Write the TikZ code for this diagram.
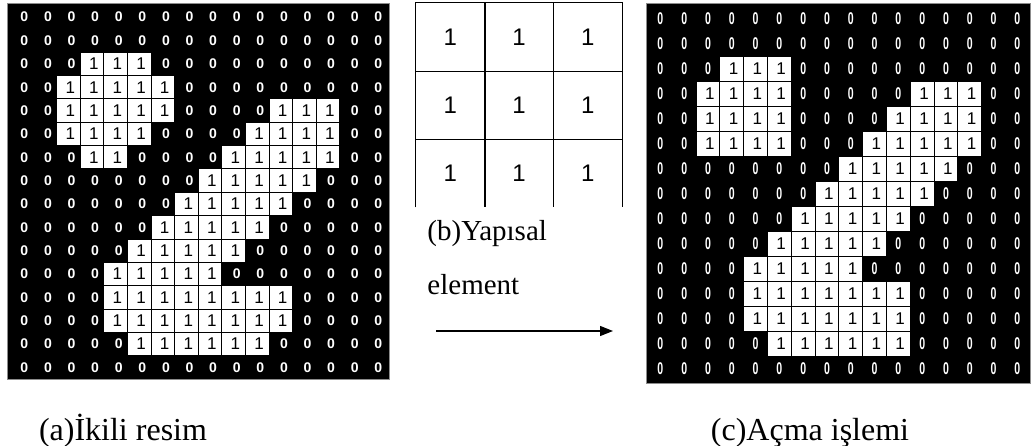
\documentclass[tikz,border=0pt]{standalone}
\usepackage{fontspec}
\setmainfont{Liberation Serif}
\newfontfamily\digitfont{Liberation Sans}
\usetikzlibrary{arrows.meta,positioning}

\newcommand{\sqzero}{\scalebox{0.62}[1]{0}}

\begin{document}
\begin{tikzpicture}[x=1pt, y=-1pt, >={Triangle[length=13pt,width=10pt]}, line width=0.9pt,
    zero/.style={text=white, inner sep=0pt, font=\digitfont\bfseries\fontsize{14}{14}\selectfont},
    cellone/.style={draw=black, fill=white, inner sep=0pt, text width=13pt, align=right,
                    font=\digitfont\fontsize{17}{17}\selectfont},
    elem/.style={inner sep=0pt, minimum width=68.67pt, minimum height=68pt,
                 font=\digitfont\fontsize{24}{24}\selectfont},
    caption/.style={inner sep=0pt, font=\fontsize{32}{32}\selectfont},
    sub/.style={inner sep=0pt, anchor=base west, font=\fontsize{29}{29}\selectfont}]
    \useasboundingbox (0,0) rectangle (1031,446);

    % binary image
    \filldraw[fill=black, draw=black!45] (7,3) rectangle (389,379);
    \foreach \row [count=\r from 0] in {
        {0,0,0,0,0,0,0,0,0,0,0,0,0,0,0,0},
        {0,0,0,0,0,0,0,0,0,0,0,0,0,0,0,0},
        {0,0,0,1,1,1,0,0,0,0,0,0,0,0,0,0},
        {0,0,1,1,1,1,1,0,0,0,0,0,0,0,0,0},
        {0,0,1,1,1,1,1,0,0,0,0,1,1,1,0,0},
        {0,0,1,1,1,1,0,0,0,0,1,1,1,1,0,0},
        {0,0,0,1,1,0,0,0,0,1,1,1,1,1,0,0},
        {0,0,0,0,0,0,0,0,1,1,1,1,1,0,0,0},
        {0,0,0,0,0,0,0,1,1,1,1,1,0,0,0,0},
        {0,0,0,0,0,0,1,1,1,1,1,0,0,0,0,0},
        {0,0,0,0,0,1,1,1,1,1,0,0,0,0,0,0},
        {0,0,0,0,1,1,1,1,1,0,0,0,0,0,0,0},
        {0,0,0,0,1,1,1,1,1,1,1,1,0,0,0,0},
        {0,0,0,0,1,1,1,1,1,1,1,1,0,0,0,0},
        {0,0,0,0,0,1,1,1,1,1,1,0,0,0,0,0},
        {0,0,0,0,0,0,0,0,0,0,0,0,0,0,0,0}}
        \foreach \v [count=\c from 0] in \row {
            \ifnum\v=1
                \node[cellone, minimum width=23.6pt, minimum height=23.35pt] (A-\r-\c)
                    at ({9.5+23.6*(\c+0.5)},{5.5+23.35*(\r+0.5)}) {1};
            \else
                \node[zero, xshift=3pt] (A-\r-\c) at ({9.5+23.6*(\c+0.5)},{5.5+23.35*(\r+0.5)}) {0};
            \fi
        };

    % structuring element
    \foreach \r in {1,2,3}
        \foreach \c in {1,2,3}
            \node[elem] (S-\r-\c) at ({416+68.67*(\c-0.5)},{3+68*(\r-0.5)}) {1};
    \draw[line width=1.3pt] (S-3-1.south west) -- (S-1-1.north west) -- (S-1-3.north east) -- (S-3-3.south east);
    \foreach \c in {1,2}
        \draw[line width=1.3pt] (S-1-\c.north east) -- (S-3-\c.south east);
    \foreach \r in {1,2}
        \draw[line width=1.3pt] (S-\r-1.south west) -- (S-\r-3.south east);
    \node[sub] (yapisal) at (427,241) {(b)Yapısal};
    \node[sub] (element) at (427,295) {element};
    \coordinate (arrS) at (436,331);
    \coordinate (arrE) at (613,331);
    \draw[->, line width=1.2pt] (arrS) -- (arrE);

    % opened image
    \filldraw[fill=black, draw=black!45] (646,3) rectangle (1030,383);
    \foreach \row [count=\r from 0] in {
        {0,0,0,0,0,0,0,0,0,0,0,0,0,0,0,0},
        {0,0,0,0,0,0,0,0,0,0,0,0,0,0,0,0},
        {0,0,0,1,1,1,0,0,0,0,0,0,0,0,0,0},
        {0,0,1,1,1,1,0,0,0,0,0,1,1,1,0,0},
        {0,0,1,1,1,1,0,0,0,0,1,1,1,1,0,0},
        {0,0,1,1,1,1,0,0,0,1,1,1,1,1,0,0},
        {0,0,0,0,0,0,0,0,1,1,1,1,1,0,0,0},
        {0,0,0,0,0,0,0,1,1,1,1,1,0,0,0,0},
        {0,0,0,0,0,0,1,1,1,1,1,0,0,0,0,0},
        {0,0,0,0,0,1,1,1,1,1,0,0,0,0,0,0},
        {0,0,0,0,1,1,1,1,1,0,0,0,0,0,0,0},
        {0,0,0,0,1,1,1,1,1,1,1,0,0,0,0,0},
        {0,0,0,0,1,1,1,1,1,1,1,0,0,0,0,0},
        {0,0,0,0,0,1,1,1,1,1,1,0,0,0,0,0},
        {0,0,0,0,0,0,0,0,0,0,0,0,0,0,0,0}}
        \foreach \v [count=\c from 0] in \row {
            \ifnum\v=1
                \node[cellone, minimum width=23.8pt, minimum height=25pt] (C-\r-\c)
                    at ({648.5+23.8*(\c+0.5)},{6.5+25*(\r+0.5)}) {1};
            \else
                \node[zero, font=\digitfont\bfseries\fontsize{17}{17}\selectfont] (C-\r-\c)
                    at ({648.5+23.8*(\c+0.5)},{6.5+25*(\r+0.5)}) {\sqzero};
            \fi
        };

    \node[caption, anchor=base] (capA) at (123,440) {(a)İkili resim};
    \node[caption, anchor=base] (capC) at (810,440) {(c)Açma işlemi};
\end{tikzpicture}
\end{document}
